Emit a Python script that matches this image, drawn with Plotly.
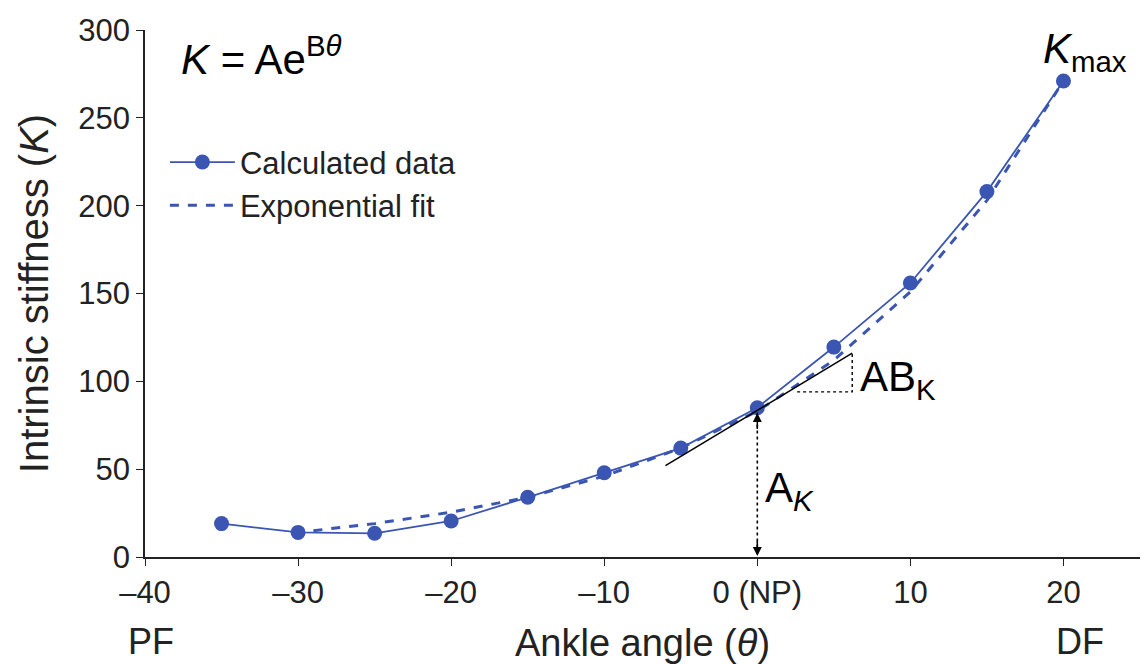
import plotly.graph_objects as go

# Data
angles = [-35, -30, -25, -20, -15, -10, -5, 0, 5, 10, 15, 20]
stiffness = [19, 14, 13.5, 20.5, 34, 48, 62, 85, 119.5, 156, 208, 271]

fit_angles = [-29, -25, -20, -15, -10, -5, 0, 5, 10, 15, 20]
fit_values = [15, 19, 25.5, 34, 46, 62, 83, 112, 151, 203, 271]

tangent_x = [-6, 6.2]
tangent_y = [52, 116]

tick_vals = [-40, -30, -20, -10, 0, 10, 20]
tick_text = ["–40", "–30", "–20", "–10", "0 (NP)", "10", "20"]
y_ticks = [0, 50, 100, 150, 200, 250, 300]

BLUE = "#3a56b2"
FONT = "Liberation Sans, Arial, sans-serif"
TXT = "#222"

fig = go.Figure()

fig.add_trace(go.Scatter(
    x=angles, y=stiffness, mode="lines+markers", name="Calculated data",
    line=dict(color=BLUE, width=1.8), marker=dict(color=BLUE, size=15)))
fig.add_trace(go.Scatter(
    x=fit_angles, y=fit_values, mode="lines", name="Exponential fit",
    line=dict(color=BLUE, width=3, dash="dash")))
fig.add_trace(go.Scatter(
    x=tangent_x, y=tangent_y, mode="lines", showlegend=False,
    line=dict(color="black", width=1.5)))
# dotted triangle for slope
fig.add_trace(go.Scatter(
    x=[2.6, 6.2, 6.2], y=[94, 94, 116], mode="lines", showlegend=False,
    line=dict(color="black", width=1.4, dash="dot")))
# A_K double arrow
fig.add_trace(go.Scatter(
    x=[0, 0], y=[2, 83], mode="lines", showlegend=False,
    line=dict(color="black", width=1.6, dash="dot")))

fig.add_annotation(x=0, y=0.5, ax=0, ay=10, xref="x", yref="y", axref="x", ayref="y",
                   showarrow=True, arrowhead=2, arrowsize=1.2, arrowwidth=1.5,
                   arrowcolor="black", text="")
fig.add_annotation(x=0, y=82, ax=0, ay=72, xref="x", yref="y", axref="x", ayref="y",
                   showarrow=True, arrowhead=2, arrowsize=1.2, arrowwidth=1.5,
                   arrowcolor="black", text="")

ann_font = dict(family=FONT, size=42, color="black")
fig.add_annotation(x=-37.8, y=285, xref="x", yref="y", showarrow=False,
                   text="<i>K</i> = Ae<sup>B<i>θ</i></sup>", font=ann_font, xanchor="left")
fig.add_annotation(x=18.5, y=288, xref="x", yref="y", showarrow=False,
                   text="<i>K</i><sub>max</sub>", font=ann_font, xanchor="left")
fig.add_annotation(x=6.6, y=101, xref="x", yref="y", showarrow=False,
                   text="AB<sub>K</sub>", font=ann_font, xanchor="left")
fig.add_annotation(x=0.4, y=38, xref="x", yref="y", showarrow=False,
                   text="A<sub><i>K</i></sub>", font=ann_font, xanchor="left")
fig.add_annotation(x=-39.6, y=-0.16, xref="x", yref="paper", showarrow=False,
                   yanchor="middle", xanchor="center",
                   text="PF", font=dict(family=FONT, size=36, color=TXT))
fig.add_annotation(x=21.1, y=-0.16, xref="x", yref="paper", showarrow=False,
                   yanchor="middle", xanchor="center",
                   text="DF", font=dict(family=FONT, size=36, color=TXT))

fig.update_layout(
    width=1147, height=664,
    margin=dict(l=145, r=7, t=30, b=107, autoexpand=False),
    paper_bgcolor="white", plot_bgcolor="white",
    font=dict(family=FONT, size=31, color=TXT),
    showlegend=True,
    legend=dict(x=0.02, y=0.80, xanchor="left", yanchor="top",
                font=dict(family=FONT, size=31, color=TXT),
                itemwidth=65, bgcolor="rgba(0,0,0,0)"),
    xaxis=dict(range=[-40, 25], tickvals=tick_vals, ticktext=tick_text,
               automargin=False,
               showgrid=False, zeroline=False, showline=True, linecolor=TXT,
               linewidth=1.5, ticks="outside", ticklen=7, tickcolor=TXT,
               tickfont=dict(family=FONT, size=31, color=TXT),
               title=dict(text="Ankle angle (<i>θ</i>)", standoff=20,
                          font=dict(family=FONT, size=38, color=TXT))),
    yaxis=dict(range=[0, 300], tickvals=y_ticks, automargin=False,
               showgrid=False, zeroline=False, showline=True, linecolor=TXT,
               linewidth=1.5, ticks="outside", ticklen=7, tickcolor=TXT,
               tickfont=dict(family=FONT, size=31, color=TXT),
               title=dict(text="Intrinsic stiffness (<i>K</i>)", standoff=17,
                          font=dict(family=FONT, size=40, color=TXT))),
)

fig.write_html("out.html")
